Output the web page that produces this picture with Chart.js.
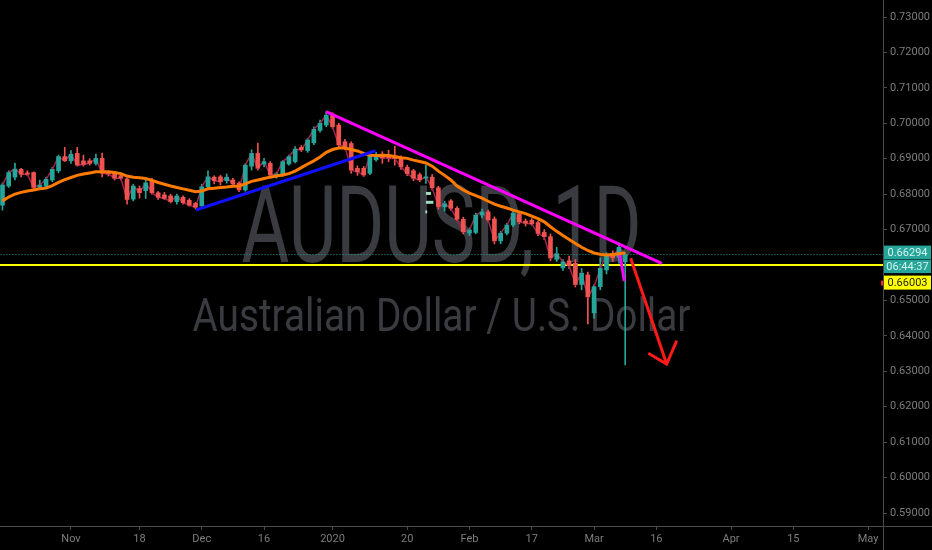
<!DOCTYPE html>
<html>
<head>
<meta charset="utf-8">
<title>AUDUSD 1D</title>
<script src="https://cdn.jsdelivr.net/npm/chart.js@4.4.1/dist/chart.umd.min.js"></script>
<style>
  html, body { margin: 0; padding: 0; background: #000; }
  #chart { display: block; }
</style>
</head>
<body>
<canvas id="chart" width="932" height="550"></canvas>
<script>
// daily bars, index 0 = 1 Nov 2019, first bar is 17 Oct 2019, last one 9 Mar 2020
const firstBar = -11;

const opens = [
  .6769, .6823, .6848, .6870, .6860, .6861, .6819, .6822, .6840, .6866, .6906,
  .6894, .6915, .6894, .6894, .6887, .6901, .6861, .6859, .6852, .6843,
  .6786, .6816, .6810, .6838, .6804, .6798, .6795, .6779, .6791, .6783,
  .6774, .6767, .6821, .6848, .6849, .6838, .6840, .6831, .6812, .6879,
  .6915, .6885, .6887, .6850, .6854, .6885, .6892, .6932, .6923, .6945,
  .6980, .6995, .7023, .6995, .6948, .6943, .6873, .6873, .6859, .6897,
  .6906, .6908, .6906, .6903, .6876, .6866, .6855, .6845, .6848, .6818,
  .6764, .6781, .6760, .6729, .6690, .6692, .6741, .6750, .6730, .6668,
  .6690, .6713, .6744, .6724, .6726, .6720, .6692, .6680, .6616, .6592,
  .6612, .6605, .6545, .6572, .6465, .6539, .6586, .6633, .6622, .6609
];
const highs = [
  .6832, .6866, .6887, .6873, .6866, .6863, .6840, .6848, .6876, .6910, .6932,
  .6923, .6932, .6910, .6900, .6913, .6916, .6866, .6863, .6857, .6846,
  .6828, .6823, .6840, .6845, .6807, .6805, .6800, .6800, .6795, .6787,
  .6777, .6828, .6866, .6852, .6853, .6857, .6845, .6835, .6886, .6925,
  .6944, .6901, .6892, .6862, .6895, .6910, .6934, .6937, .6957, .6990,
  .7009, .7033, .7030, .7000, .6955, .6948, .6880, .6878, .6915, .6918,
  .6920, .6924, .6935, .6908, .6882, .6870, .6860, .6882, .6855, .6822,
  .6780, .6785, .6765, .6735, .6705, .6746, .6758, .6755, .6736, .6695,
  .6718, .6752, .6750, .6730, .6731, .6725, .6700, .6688, .6650, .6615,
  .6625, .6615, .6590, .6580, .6545, .6620, .6635, .6640, .6662, .6635
];
const lows = [
  .6755, .6819, .6840, .6849, .6852, .6814, .6817, .6816, .6835, .6860, .6892,
  .6887, .6879, .6879, .6882, .6882, .6849, .6851, .6840, .6840, .6772,
  .6781, .6789, .6788, .6800, .6785, .6785, .6775, .6772, .6772, .6766,
  .6758, .6765, .6817, .6829, .6826, .6831, .6823, .6807, .6808, .6868,
  .6868, .6877, .6848, .6845, .6850, .6882, .6888, .6920, .6918, .6940,
  .6975, .6990, .6985, .6930, .6925, .6859, .6853, .6850, .6855, .6893,
  .6887, .6892, .6882, .6870, .6852, .6838, .6835, .6830, .6812, .6758,
  .6752, .6755, .6725, .6688, .6683, .6688, .6733, .6722, .6660, .6660,
  .6685, .6708, .6716, .6710, .6712, .6683, .6672, .6612, .6610, .6585,
  .6590, .6538, .6530, .6434, .6450, .6530, .6575, .6610, .6605, .6318
];
const closes = [
  .6826, .6861, .6871, .6856, .6856, .6819, .6826, .6842, .6870, .6906, .6894,
  .6913, .6882, .6884, .6887, .6901, .6859, .6857, .6845, .6845, .6785,
  .6823, .6804, .6832, .6804, .6791, .6788, .6779, .6795, .6776, .6769,
  .6763, .6821, .6849, .6838, .6835, .6848, .6829, .6812, .6882, .6915,
  .6873, .6892, .6854, .6857, .6892, .6906, .6927, .6925, .6953, .6983,
  .7000, .7023, .6990, .6939, .6934, .6868, .6863, .6854, .6910, .6909,
  .6902, .6902, .6900, .6877, .6858, .6845, .6840, .6849, .6818, .6765,
  .6773, .6760, .6729, .6694, .6699, .6741, .6750, .6727, .6668, .6690,
  .6713, .6746, .6722, .6718, .6716, .6689, .6680, .6620, .6632, .6609,
  .6598, .6545, .6577, .6510, .6539, .6591, .6628, .6620, .6650, .66294
];
// orange moving average
const ema = [
  .6781, .6792, .6800, .6805, .6809, .6812, .6815, .6817, .6824, .6833, .6841,
  .6847, .6853, .6857, .6860, .6863, .6863, .6863, .6861, .6858, .6851,
  .6848, .6846, .6844, .6839, .6833, .6828, .6823, .6819, .6815, .6811,
  .6807, .6809, .6815, .6817, .6819, .6820, .6822, .6823, .6829, .6836,
  .6840, .6844, .6848, .6851, .6854, .6858, .6865, .6875, .6885, .6894,
  .6905, .6918, .6926, .6930, .6930, .6926, .6922, .6915, .6910, .6909,
  .6910, .6909, .6906, .6903, .6901, .6896, .6892, .6888, .6879, .6865,
  .6853, .6840, .6823, .6812, .6803, .6796, .6789, .6780, .6772, .6766,
  .6761, .6755, .6750, .6745, .6738, .6731, .6722, .6708, .6695, .6683,
  .6672, .6661, .6650, .6641, .6634, .6630, .6628, .6630, .6632, .6634
];

// bottom axis: bar index -> label
const xTickBars = [0, 11, 21, 31, 42, 54, 64, 74, 84, 94, 106, 116, 128];
const xTickLabels = ['Nov', '18', 'Dec', '16', '2020', '20', 'Feb', '17', 'Mar', '16', 'Apr', '15', 'May'];
const yTickValues = [0.59, 0.60, 0.61, 0.62, 0.63, 0.64, 0.65, 0.67, 0.68, 0.69, 0.70, 0.71, 0.72, 0.73];

// hand drawn lines, [bar, price]
const blueTrend = [[20.07, 0.67553], [48.9, 0.69226]];
const pinkTrend = [[40.95, 0.70327], [94.86, 0.66048]];
const pinkTick = [[88.16, 0.66283], [88.86, 0.65549]];
const arrowShaft = [[89.88, 0.66189], [95.66, 0.63206]];
const arrowHead = [[92.71, 0.63508], [95.66, 0.63206], [97.27, 0.63864]];
const paleMarks = [
  [[57.0, 0.6802], [57.8, 0.6802]],
  [[57.0, 0.6777], [58.2, 0.6777]],
  [[56.9, 0.6750], [57.2, 0.6750]]
];
const lastPrice = 0.66294;
const levelPrice = 0.66003;

const UP = '#26a69a';
const DOWN = '#ef5350';
const AXIS = '#4b4b4b';
const TXT = '#7d7d7d';

const pts = arr => arr.map(p => ({ x: p[0], y: p[1] }));
const barX = opens.map((_, i) => firstBar + i);
const colors = opens.map((o, i) => closes[i] >= o ? UP : DOWN);

function lineSet(data, color, width, order, extra) {
  return Object.assign({
    type: 'line', data: data, borderColor: color, borderWidth: width,
    pointRadius: 0, tension: 0, fill: false, order: order
  }, extra || {});
}

const datasets = [
  lineSet(pts(arrowShaft), '#ff1a1a', 3, 0),
  lineSet(pts(arrowHead), '#ff1a1a', 3, 0),
  lineSet(pts(pinkTrend), '#ff00ff', 3, 1),
  lineSet(pts(pinkTick), '#ff00ff', 3, 1),
  lineSet(pts(blueTrend), '#1010ff', 3, 2),
  lineSet(barX.map((x, i) => ({ x: x, y: ema[i] })), '#ff7b00', 3, 3),
  {
    type: 'bar', order: 4, grouped: false, barThickness: 4, minBarLength: 1,
    data: barX.map((x, i) => ({ x: x, y: [Math.min(opens[i], closes[i]), Math.max(opens[i], closes[i])] })),
    backgroundColor: colors
  },
  lineSet(barX.map((x, i) => ({ x: x, y: closes[i] })), '#a3234f', 1.5, 5),
  {
    type: 'bar', order: 6, grouped: false, barThickness: 1,
    data: barX.map((x, i) => ({ x: x, y: [lows[i], highs[i]] })),
    backgroundColor: colors
  },
  lineSet([{ x: -20, y: lastPrice }, { x: 140, y: lastPrice }], UP, 1, 7, { borderDash: [1, 2] }),
  lineSet([{ x: -20, y: levelPrice }, { x: 140, y: levelPrice }], '#ffff00', 2, 8)
];
paleMarks.forEach(m => datasets.push(lineSet(pts(m), '#9fdcc0', 3, 3.5)));

const overlay = {
  id: 'overlay',
  beforeDatasetsDraw(chart) {
    const ctx = chart.ctx, a = chart.chartArea;
    ctx.save();
    ctx.beginPath();
    ctx.rect(a.left, a.top, a.right - a.left, a.bottom - a.top);
    ctx.clip();
    ctx.fillStyle = '#393b40';
    ctx.textAlign = 'center';
    ctx.textBaseline = 'alphabetic';
    const marks = [['AUDUSD, 1D', 108, 400, 262], ['Australian Dollar / U.S. Dollar', 46, 498, 331]];
    marks.forEach(m => {
      ctx.font = m[1] + 'px Roboto';
      const w = ctx.measureText(m[0]).width;
      ctx.save();
      ctx.translate((a.left + a.right) / 2, m[3]);
      ctx.scale(m[2] / w, 1);
      ctx.fillText(m[0], 0, 0);
      ctx.restore();
    });
    ctx.restore();
  },
  afterDraw(chart) {
    const ctx = chart.ctx, a = chart.chartArea, y = chart.scales.y;
    ctx.save();
    ctx.strokeStyle = AXIS;
    ctx.lineWidth = 1;
    ctx.beginPath();
    ctx.moveTo(a.right + 0.5, 0);
    ctx.lineTo(a.right + 0.5, chart.height);
    ctx.moveTo(0, a.bottom + 0.5);
    ctx.lineTo(chart.width, a.bottom + 0.5);
    ctx.stroke();

    const left = a.right, w = chart.width - a.right - 2;
    const py = y.getPixelForValue(lastPrice);
    const boxes = [
      [py - 9, 13.5, UP, '#d6f2ee', lastPrice.toFixed(5)],
      [py + 5, 13.5, UP, '#d6f2ee', '06:44:37'],
      [py + 21, 14, '#ffff00', '#222', levelPrice.toFixed(5)]
    ];
    ctx.font = '11px Roboto';
    ctx.textAlign = 'center';
    ctx.textBaseline = 'middle';
    boxes.forEach(b => {
      ctx.fillStyle = b[2];
      ctx.fillRect(left + 1, b[0], w, b[1]);
      ctx.fillStyle = b[3];
      ctx.fillText(b[4], left + 1 + w / 2, b[0] + b[1] / 2 + 0.5);
    });
    ctx.fillStyle = '#ff2a2a';
    ctx.fillRect(left - 2, py + 26, 2, 5);
    ctx.restore();
  }
};

function noPad(s) {
  s.paddingTop = 0;
  s.paddingBottom = 0;
  s.paddingLeft = 0;
  s.paddingRight = 0;
}

new Chart(document.getElementById('chart'), {
  type: 'bar',
  data: { datasets: datasets },
  plugins: [overlay],
  options: {
    responsive: false,
    animation: false,
    layout: { padding: 0 },
    plugins: { legend: { display: false }, tooltip: { enabled: false } },
    scales: {
      x: {
        type: 'linear', position: 'bottom', min: -11.4, max: 130.4, offset: false,
        grid: { drawOnChartArea: false, offset: false, color: AXIS, tickLength: 4 },
        border: { color: AXIS },
        ticks: {
          color: TXT, font: { family: 'Roboto', size: 11 }, maxRotation: 0, autoSkip: false, padding: 3,
          callback: v => xTickLabels[xTickBars.indexOf(v)]
        },
        afterBuildTicks: s => { s.ticks = xTickBars.map(v => ({ value: v })); },
        afterFit: s => { s.height = 24; noPad(s); }
      },
      y: {
        type: 'linear', position: 'right', min: 0.58634, max: 0.73480,
        grid: { drawOnChartArea: false, color: AXIS, tickLength: 4 },
        border: { color: AXIS },
        ticks: {
          color: TXT, font: { family: 'Roboto', size: 11 }, padding: 3,
          callback: v => v.toFixed(5)
        },
        afterBuildTicks: s => { s.ticks = yTickValues.map(v => ({ value: v })); },
        afterFit: s => { s.width = 49; noPad(s); }
      }
    }
  }
});
</script>
</body>
</html>
